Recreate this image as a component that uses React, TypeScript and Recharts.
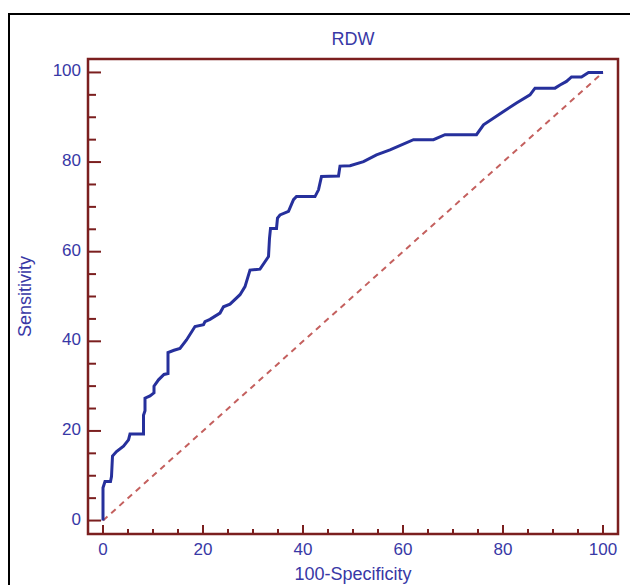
import React from 'react';
import { LineChart, Line, XAxis, YAxis, ReferenceArea } from 'recharts';

// ROC curve points (100-Specificity, Sensitivity)
const fpr = [
  0, 0, 0.4, 1.5, 1.7, 1.9, 2.7, 4.1, 5.1, 5.4, 8.1, 8.1, 8.4, 8.4, 9.4, 10.2, 10.2, 11.1,
  12.2, 13, 13, 14.2, 15.4, 16.7, 18.4, 20.1, 20.4, 21.4, 23.4, 24.1, 25.4, 27.4, 28.4,
  29.4, 31.4, 33.1, 33.3, 33.5, 34.7, 34.9, 35.4, 37.1, 38.1, 38.7, 42.4, 43.1, 43.7,
  47.1, 47.4, 49.4, 52.1, 54.7, 57.4, 62.1, 66.1, 68.4, 74.7, 76.1, 80.1, 82.7, 85.4,
  86.4, 90.4, 91.4, 92.7, 93.7, 95.7, 97.1, 100,
];
const tpr = [
  0, 7.3, 8.7, 8.7, 9.8, 14.4, 15.4, 16.6, 18, 19.3, 19.3, 23.5, 24.5, 27.3, 27.8, 28.5, 30, 31.4,
  32.6, 32.8, 37.5, 38, 38.4, 40.3, 43.3, 43.7, 44.4, 44.9, 46.3, 47.7, 48.3, 50.4, 52.2,
  55.9, 56.1, 58.9, 63, 65.2, 65.2, 67.5, 68.2, 69, 71.6, 72.3, 72.3, 73.8, 76.8,
  76.9, 79.1, 79.2, 80.1, 81.6, 82.7, 85, 85, 86.1, 86.1, 88.3, 91.3, 93.2, 95,
  96.5, 96.5, 97.2, 98, 99, 99, 100, 100,
];
const diagX = [0, 100];
const diagY = [0, 100];
const axisTicks = [0, 5, 10, 15, 20, 25, 30, 35, 40, 45, 50, 55, 60, 65, 70, 75, 80, 85, 90, 95, 100];

const rocData = fpr.map((x, i) => ({ x, y: tpr[i] }));
const diagData = diagX.map((x, i) => ({ x, y: diagY[i] }));

const MAROON = '#7B1F1F';
const BLUE_TEXT = '#3838A6';
const FONT = '"Liberation Sans", Arial, sans-serif';

const YTick = (props: any) => {
  const { x, y, payload } = props;
  const major = payload.value % 20 === 0;
  return (
    <g>
      <line x1={x} x2={x + (major ? 13 : 8)} y1={y} y2={y} stroke={MAROON} strokeWidth={2} />
      {major && (
        <text x={x - 7} y={y} dy={4} textAnchor="end" fill={BLUE_TEXT} fontSize={17} fontFamily={FONT}>
          {payload.value}
        </text>
      )}
    </g>
  );
};

const XTick = (props: any) => {
  const { x, y, payload } = props;
  const major = payload.value % 20 === 0;
  return (
    <g>
      <line x1={x} x2={x} y1={y} y2={y - (major ? 9 : 5)} stroke={MAROON} strokeWidth={2} />
      {major && (
        <text x={x} y={y + 21} textAnchor="middle" fill={BLUE_TEXT} fontSize={17} fontFamily={FONT}>
          {payload.value}
        </text>
      )}
    </g>
  );
};

export default function App() {
  return (
    <div
      style={{
        position: 'absolute',
        left: 8,
        top: 13,
        width: 620,
        height: 570,
        borderLeft: '2px solid #000',
        borderTop: '2px solid #000',
        fontFamily: FONT,
        background: '#fff',
      }}
    >
      <div
        style={{
          position: 'absolute',
          left: 78,
          width: 530,
          top: 14,
          lineHeight: '20px',
          fontSize: 18,
          textAlign: 'center',
          color: BLUE_TEXT,
        }}
      >
        RDW
      </div>
      <LineChart width={620} height={570} margin={{ top: 44, right: 12, left: 0, bottom: 0 }}>
        <XAxis
          dataKey="x"
          type="number"
          domain={[-3, 103]}
          ticks={axisTicks}
          interval={0}
          allowDataOverflow
          axisLine={false}
          tickLine={false}
          tickSize={0}
          tickMargin={0}
          height={51}
          tick={<XTick />}
          label={{
            value: '100-Specificity',
            position: 'insideBottom',
            offset: 5,
            fill: BLUE_TEXT,
            fontSize: 18,
            fontFamily: FONT,
          }}
        />
        <YAxis
          dataKey="y"
          type="number"
          domain={[-3, 103]}
          ticks={axisTicks}
          interval={0}
          allowDataOverflow
          axisLine={false}
          tickLine={false}
          tickSize={0}
          tickMargin={0}
          width={78}
          tick={<YTick />}
          label={{
            value: 'Sensitivity',
            angle: -90,
            position: 'insideLeft',
            offset: 15,
            fill: BLUE_TEXT,
            fontSize: 18,
            fontFamily: FONT,
            style: { textAnchor: 'middle' },
          }}
        />
        <ReferenceArea x1={-3} x2={103} y1={-3} y2={103} fill="none" stroke={MAROON} strokeWidth={2.5} />
        <Line
          data={diagData}
          dataKey="y"
          type="linear"
          stroke="#C4605E"
          strokeWidth={2}
          strokeDasharray="6 5"
          dot={false}
          isAnimationActive={false}
        />
        <Line
          data={rocData}
          dataKey="y"
          type="linear"
          stroke="#26309C"
          strokeWidth={3}
          dot={false}
          isAnimationActive={false}
        />
      </LineChart>
    </div>
  );
}
